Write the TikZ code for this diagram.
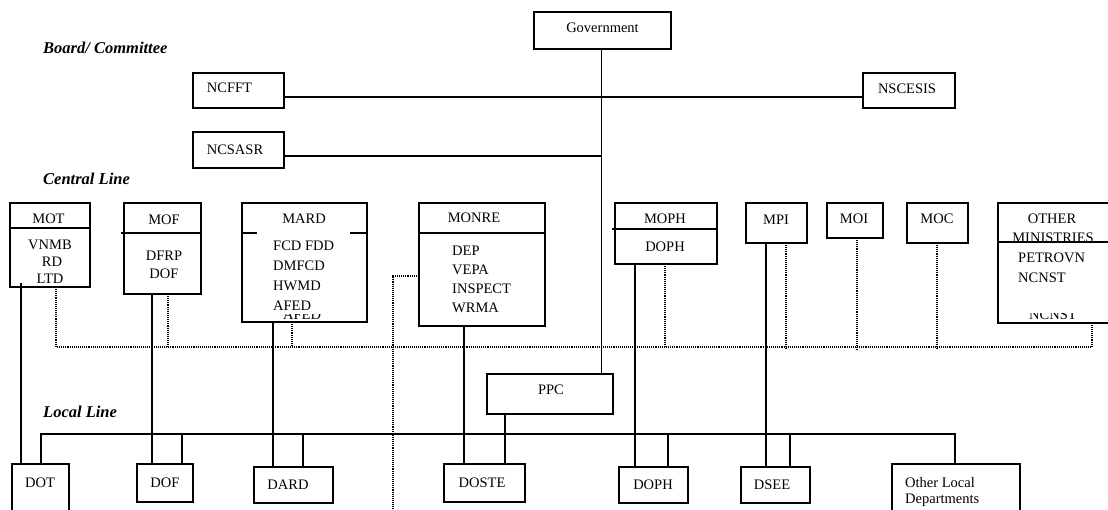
\documentclass[tikz,border=0pt]{standalone}
\usepackage{fontspec}
\setmainfont{Liberation Serif}
\begin{document}
\begin{tikzpicture}[x=1pt,y=-1pt,
  box/.style={draw, line width=1.2pt, inner sep=0pt, outer sep=0pt},
  lbl/.style={font=\fontsize{14.5}{17}\selectfont, inner sep=0pt, anchor=base},
  lblw/.style={lbl, anchor=base west},
  head/.style={font=\fontsize{16.5}{20}\selectfont\bfseries\itshape, inner sep=0pt, anchor=base west},
  link/.style={line width=1.2pt},
  govlink/.style={line width=1pt},
  dotlink/.style={line width=1.1pt, dash pattern=on 1.1pt off 1pt}]
\useasboundingbox (0,0) rectangle (1108,510);
\clip (0,0) rectangle (1108,510);

% ---------- section headings ----------
\node[head] (hboard)   at (43,54)  {Board/ Committee};
\node[head] (hcentral) at (43,185) {Central Line};
\node[head] (hlocal)   at (43,417) {Local Line};

% ---------- government and boards ----------
\node[box, minimum width=137pt, minimum height=37pt] (gov)     at (602.5,30.5) {};
\node[box, minimum width=91pt,  minimum height=35pt] (ncfft)   at (238.5,90.5) {};
\node[box, minimum width=91pt,  minimum height=36pt] (ncsasr)  at (238.5,150)  {};
\node[box, minimum width=92pt,  minimum height=35pt] (nscesis) at (909,90.5)   {};
\node[lbl] (tgov)     at (602.5,33) {Government};
\node[lbl] (tncfft)   at (229.5,93) {NCFFT};
\node[lbl] (tncsasr)  at (235,155)  {NCSASR};
\node[lbl] (tnscesis) at (907,94)   {NSCESIS};

% ---------- ministries ----------
\node[box, minimum width=80pt,  minimum height=84pt]  (mot)   at (50,245)    {};
\node[box, minimum width=77pt,  minimum height=91pt]  (mof)   at (162.5,248.5) {};
\node[box, minimum width=125pt, minimum height=119pt] (mard)  at (304.5,262.5) {};
\node[box, minimum width=126pt, minimum height=123pt] (monre) at (482,264.5) {};
\node[box, minimum width=102pt, minimum height=61pt]  (moph)  at (666,233.5) {};
\node[box, minimum width=61pt,  minimum height=40pt]  (mpi)   at (776.5,223) {};
\node[box, minimum width=56pt,  minimum height=35pt]  (moi)   at (855,220.5) {};
\node[box, minimum width=61pt,  minimum height=40pt]  (moc)   at (937.5,223) {};
\node[box, minimum width=132pt, minimum height=120pt] (other) at (1064,263)  {};

% dividers under the ministry names
\draw[link] (mot.west |- 0,228) -- (mot.east |- 0,228);
\draw[link] (121,233) -- (mof.east |- 0,233);
\draw[link] (mard.west |- 0,233) -- (257,233);
\draw[link] (350,233) -- (mard.east |- 0,233);
\draw[link] (monre.west |- 0,233) -- (monre.east |- 0,233);
\draw[link] (612,229) -- (moph.east |- 0,229);

% ministry texts
\node[lbl] (tmot)   at (48.5,224) {MOT};
\node[lbl] (tvnmb)  at (50,250)   {VNMB};
\node[lbl] (trd)    at (52,267)   {RD};
\node[lbl] (tltd)   at (50,284)   {LTD};
\node[lbl] (tmof)   at (164,225)  {MOF};
\node[lbl] (tdfrp)  at (164,261)  {DFRP};
\node[lbl] (tdof)   at (164,279)  {DOF};
\node[lbl] (tmard)  at (304,224)  {MARD};
\node[lblw] (tfcd)  at (273,251)  {FCD FDD};
\node[lblw] (tdmf)  at (273,271)  {DMFCD};
\node[lblw] (thwmd) at (273,291)  {HWMD};
\node[lblw] (tafed) at (273,311)  {AFED};
\begin{scope}
  \clip (270,314.5) rectangle (340,322);
  \node[lblw] (tafedb) at (283,320) {AFED};
\end{scope}
\node[lbl] (tmonre) at (474,223)  {MONRE};
\node[lblw] (tdep)  at (452,256)  {DEP};
\node[lblw] (tvepa) at (452,275)  {VEPA};
\node[lblw] (tinsp) at (452,294)  {INSPECT};
\node[lblw] (twrma) at (452,313)  {WRMA};
\node[lbl] (tmoph)  at (665,224)  {MOPH};
\node[lbl] (tdoph)  at (665,252)  {DOPH};
\node[lbl] (tmpi)   at (776,225)  {MPI};
\node[lbl] (tmoi)   at (854,224)  {MOI};
\node[lbl] (tmoc)   at (937,224)  {MOC};
\node[lbl] (tother) at (1052,224) {OTHER};
\node[lbl] (tmin)   at (1053,242.5) {MINISTRIES};
\draw[link] (other.west |- 0,242) -- (1108,242);
\node[lblw] (tpetro) at (1018,263) {PETROVN};
\node[lblw] (tncnst) at (1018,283) {NCNST};
\begin{scope}
  \clip (1020,313.5) rectangle (1090,322);
  \node[lblw] (tncnstb) at (1029,319.5) {NCNST};
\end{scope}

% ---------- provincial committee and local departments ----------
\node[box, minimum width=126pt, minimum height=40pt] (ppc)   at (550,394)   {};
\node[lbl] (tppc) at (551,394) {PPC};
\node[box, minimum width=57pt,  minimum height=66pt] (dot)   at (40.5,497)  {};
\node[box, minimum width=56pt,  minimum height=38pt] (dof)   at (165,483)   {};
\node[box, minimum width=79pt,  minimum height=36pt] (dard)  at (293.5,485) {};
\node[box, minimum width=81pt,  minimum height=38pt] (doste) at (484.5,483) {};
\node[box, minimum width=69pt,  minimum height=36pt] (doph)  at (653.5,485) {};
\node[box, minimum width=69pt,  minimum height=36pt] (dsee)  at (775.5,485) {};
\node[box, minimum width=128pt, minimum height=66pt] (oloc)  at (956,497)   {};
\node[lbl] (tdot)   at (40,487)  {DOT};
\node[lbl] (tdofl)  at (165,487) {DOF};
\node[lbl] (tdard)  at (288,489) {DARD};
\node[lbl] (tdoste) at (482,487) {DOSTE};
\node[lbl] (tdophl) at (653,489) {DOPH};
\node[lbl] (tdsee)  at (772,489) {DSEE};
\node[lblw] (tol1)  at (905,487) {Other Local};
\node[lblw] (tol2)  at (905,503) {Departments};

% ---------- government lines ----------
\draw[govlink] (601,0 |- gov.south) -- (601,0 |- ppc.north);
\draw[link] (ncfft.east |- 0,97) -- (nscesis.west |- 0,97);
\draw[link] (ncsasr.east |- 0,156) -- (601,156);

% ---------- ministry to local department lines ----------
\draw[link] (21,283)               -- (21,0 |- dot.north);
\draw[link] (152,0 |- mof.south)   -- (152,0 |- dof.north);
\draw[link] (273,0 |- mard.south)  -- (273,0 |- dard.north);
\draw[link] (464,0 |- monre.south) -- (464,0 |- doste.north);
\draw[link] (635,0 |- moph.south)  -- (635,0 |- doph.north);
\draw[link] (766,0 |- mpi.south)   -- (766,0 |- dsee.north);
\draw[link] (505,0 |- ppc.south)   -- (505,0 |- doste.north);

% ---------- local bus ----------
\coordinate (lbusL) at (41,434);
\coordinate (lbusR) at (955,434);
\draw[link] (lbusL |- dot.north) -- (lbusL) -- (lbusR) -- (lbusR |- oloc.north);
\draw[link] (182,434) -- (182,0 |- dof.north);
\draw[link] (303,434) -- (303,0 |- dard.north);
\draw[link] (668,434) -- (668,0 |- doph.north);
\draw[link] (790,434) -- (790,0 |- dsee.north);

% ---------- dotted coordination bus ----------
\coordinate (dbusL) at (56,347);
\coordinate (dbusR) at (1092,347);
\draw[dotlink] (dbusL |- mot.south) -- (dbusL) -- (dbusR) -- (dbusR |- other.south);
\draw[dotlink] (168,0 |- mof.south)  -- (168,347);
\draw[dotlink] (292,0 |- mard.south) -- (292,347);
\draw[dotlink] (665,0 |- moph.south) -- (665,347);
\draw[dotlink] (786,0 |- mpi.south)  -- (786,350);
\draw[dotlink] (857,0 |- moi.south)  -- (857,350);
\draw[dotlink] (937,0 |- moc.south)  -- (937,350);
\draw[dotlink] (monre.west |- 0,276) -- (393,276) -- (393,515);
\end{tikzpicture}
\end{document}
